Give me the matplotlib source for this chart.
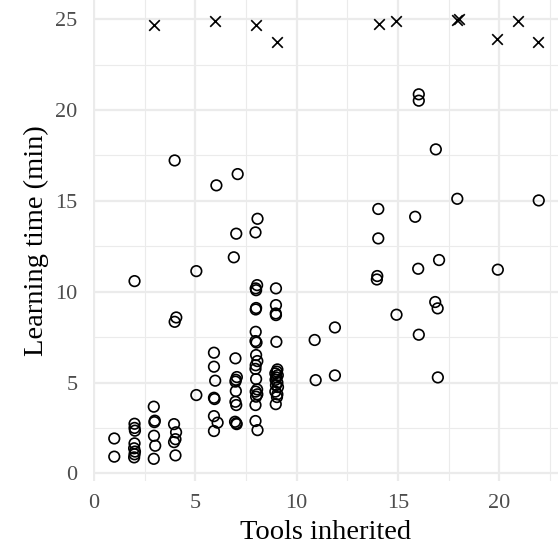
import matplotlib
matplotlib.use("Agg")
import matplotlib.pyplot as plt
from matplotlib.ticker import MultipleLocator

# Completed trials (open circles)
tools_inherited = [
    1.0, 1.0,
    2.0, 2.0, 2.0, 2.02, 2.0, 1.98, 2.02, 2.0, 1.98,
    2.95, 3.0, 2.98, 2.96, 3.02, 2.95,
    3.98, 3.98, 4.06, 3.95, 4.05, 4.02, 3.95, 4.02,
    5.05, 5.05,
    6.04, 5.92, 5.92, 5.98, 5.92, 5.95, 5.92, 6.1, 5.92,
    7.09, 7.02, 6.9, 6.98, 7.05, 7.0, 6.98, 7.0, 6.98, 7.02, 6.96, 7.02, 7.04,
    8.07, 7.97, 8.05, 7.98, 8.0, 8.0, 7.98, 7.98, 7.97, 8.02, 8.0, 8.06, 7.98,
    7.97, 8.0, 8.05, 7.98, 8.06, 8.0, 7.97, 7.97, 8.07,
    8.98, 8.98, 8.97, 8.98, 9.0, 9.05, 9.02, 8.95, 9.07, 9.0, 8.96, 9.05, 8.98,
    9.08, 8.95, 9.05, 9.03, 8.97,
    10.89, 10.94,
    11.89, 11.89,
    14.03, 14.03, 13.98, 13.96,
    14.93,
    16.03, 16.03, 15.85, 16.0, 16.03,
    16.87, 17.03, 16.84, 16.96, 16.97,
    17.93,
    19.93,
    21.95,
]
learning_time = [
    1.92, 0.92,
    10.58, 2.73, 2.5, 2.35, 1.65, 1.38, 1.2, 1.05, 0.88,
    3.67, 2.9, 2.82, 2.07, 1.52, 0.8,
    17.22, 8.34, 8.58, 2.71, 2.26, 1.88, 1.72, 0.99,
    11.13, 4.31,
    15.85, 6.64, 5.87, 5.1, 4.16, 4.09, 3.15, 2.79, 2.33,
    16.47, 13.19, 11.89, 6.33, 5.3, 5.15, 5.05, 4.53, 3.94, 3.76, 2.84, 2.76, 2.71,
    14.01, 13.26, 10.36, 10.18, 10.08, 9.1, 9.02, 7.79, 7.28, 7.2, 6.51, 6.18, 5.95,
    5.75, 5.19, 4.62, 4.5, 4.35, 4.22, 3.76, 2.88, 2.38,
    10.18, 9.26, 8.8, 8.71, 7.24, 5.72, 5.6, 5.5, 5.4, 5.28, 5.15, 5.0, 4.85,
    4.75, 4.5, 4.35, 4.2, 3.81,
    7.34, 5.13,
    8.03, 5.39,
    14.55, 12.93, 10.86, 10.67,
    8.73,
    20.86, 20.51, 14.12, 11.26, 7.63,
    17.83, 11.74, 9.43, 9.08, 5.28,
    15.11,
    11.21,
    15.02,
]

# Censored trials (crosses)
censored_tools = [2.96, 5.98, 7.99, 9.01, 14.06, 14.92, 17.93, 18.0, 19.87, 20.92, 21.89]
censored_time = [24.67, 24.9, 24.67, 23.74, 24.75, 24.9, 24.95, 25.0, 23.9, 24.9, 23.74]

x_ticks = [0, 5, 10, 15, 20]
y_ticks = [0, 5, 10, 15, 20, 25]

plt.rcParams['font.family'] = ['Liberation Serif', 'DejaVu Serif']

fig = plt.figure(figsize=(5.58, 5.5), dpi=100)
ax = fig.add_axes([93 / 558, 69 / 550, 1 - 93 / 558, 1 - 69 / 550])

ax.scatter(tools_inherited, learning_time, s=58, facecolors='none',
           edgecolors='black', linewidths=1.2, zorder=3)
ax.scatter(censored_tools, censored_time, s=58, marker='x',
           color='black', linewidths=1.2, zorder=3)

ax.set_xlim(-0.05, 22.9)
ax.set_ylim(-0.42, 26.05)
ax.set_xticks(x_ticks)
ax.set_yticks(y_ticks)
ax.xaxis.set_minor_locator(MultipleLocator(2.5))
ax.yaxis.set_minor_locator(MultipleLocator(2.5))

ax.grid(True, which='major', color='#EBEBEB', linewidth=1.6, zorder=0)
ax.grid(True, which='minor', color='#EBEBEB', linewidth=0.8, zorder=0)
ax.set_axisbelow(True)
for s in ax.spines.values():
    s.set_visible(False)
ax.tick_params(which='both', length=0)
ax.tick_params(axis='x', labelsize=16, labelcolor='#4D4D4D', pad=9.5)
ax.tick_params(axis='y', labelsize=16, labelcolor='#4D4D4D', pad=11)

ax.set_xlabel('Tools inherited', fontsize=20.5, color='black', labelpad=5)
ax.set_ylabel('Learning time (min)', fontsize=20.5, color='black', labelpad=5)

fig.savefig('out.png', dpi=100)
